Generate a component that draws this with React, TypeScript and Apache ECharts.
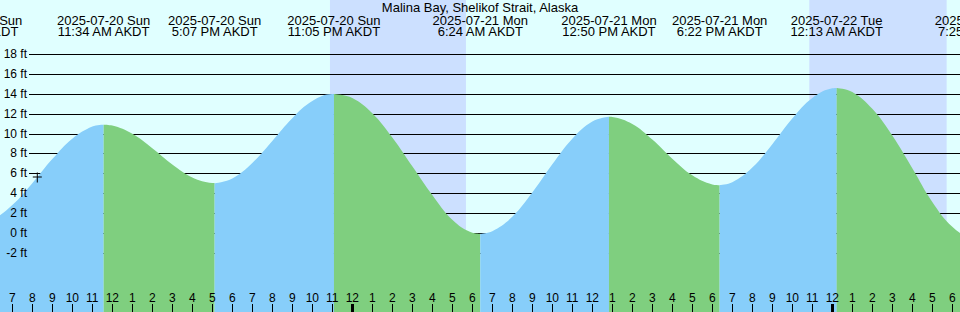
import { useEffect, useRef } from "react";
import * as echarts from "echarts";

const TITLE = "Malina Bay, Shelikof Strait, Alaska";

// Tide extremes, time in hours since 2025-07-20 00:00 AKDT
const EXTREME_TIMES = [5.17, 11.567, 17.117, 23.083, 30.4, 36.833, 42.367, 48.217, 55.417];
const EXTREME_HEIGHTS = [0.9, 10.9, 5.0, 14.0, -0.1, 11.7, 4.8, 14.6, -0.6];
const EXTREME_DATES = [
  "2025-07-20 Sun",
  "2025-07-20 Sun",
  "2025-07-20 Sun",
  "2025-07-20 Sun",
  "2025-07-21 Mon",
  "2025-07-21 Mon",
  "2025-07-21 Mon",
  "2025-07-22 Tue",
  "2025-07-22 Tue",
];
const EXTREME_CLOCKS = [
  "5:10 AM AKDT",
  "11:34 AM AKDT",
  "5:07 PM AKDT",
  "11:05 PM AKDT",
  "6:24 AM AKDT",
  "12:50 PM AKDT",
  "6:22 PM AKDT",
  "12:13 AM AKDT",
  "7:25 AM AKDT",
];

// Hourly readings of the tide curve (ft)
const HOURS = [
  6, 7, 8, 9, 10, 11, 12, 13, 14, 15, 16, 17, 18, 19, 20, 21, 22, 23, 24, 25, 26, 27, 28, 29, 30,
  31, 32, 33, 34, 35, 36, 37, 38, 39, 40, 41, 42, 43, 44, 45, 46, 47, 48, 49, 50, 51, 52, 53, 54, 55,
];
const HOURLY_HEIGHTS = [
  1.31, 2.79, 5.0, 7.43, 9.49, 10.71, 10.81, 9.98, 8.52, 6.88, 5.57, 5.01, 5.48, 7.04, 9.26, 11.56,
  13.29, 14.0, 13.6, 12.05, 9.6, 6.7, 3.8, 1.3, 0.0, 0.15, 1.61, 4.05, 6.9, 9.49, 11.22, 11.68, 10.97,
  9.4, 7.47, 5.79, 4.87, 5.08, 6.57, 8.93, 11.52, 13.59, 14.57, 14.2, 12.5, 9.8, 6.5, 3.1, 0.6, -0.55,
];

// Night (sunset → sunrise)
const NIGHT_STARTS = [22.883, 46.85];
const NIGHT_ENDS = [29.683, 53.717];

// Current-time marker
const NOW_TIME = 8.25;
const NOW_HEIGHT = 5.57;

// Axis ticks
const TICK_HOURS = [
  7, 8, 9, 10, 11, 12, 13, 14, 15, 16, 17, 18, 19, 20, 21, 22, 23, 24, 25, 26, 27, 28, 29, 30, 31, 32,
  33, 34, 35, 36, 37, 38, 39, 40, 41, 42, 43, 44, 45, 46, 47, 48, 49, 50, 51, 52, 53, 54,
];
const MIDNIGHTS = [24, 48];
const GRID_LEVELS = [-2, 0, 2, 4, 6, 8, 10, 12, 14, 16, 18];

// Layout / style
const X_MIN = 6.385;
const X_MAX = 54.385;
const Y_MIN = -8;
const Y_MAX = 23.48;
const BG = "#e0ffff";
const NIGHT = "#cce0ff";
const FLOOD = "#87cefa";
const EBB = "#7fcf7f";
const FONT = '"Liberation Sans", Arial, sans-serif';

function hourLabel(v: number): string {
  const h = Math.round(v) % 12;
  return String(h === 0 ? 12 : h);
}

function buildSegments() {
  const segs: { points: number[][]; rising: boolean }[] = [];
  for (let i = 0; i < EXTREME_TIMES.length - 1; i++) {
    const t0 = EXTREME_TIMES[i];
    const t1 = EXTREME_TIMES[i + 1];
    const pts: number[][] = [[t0, EXTREME_HEIGHTS[i]]];
    HOURS.forEach((h, k) => {
      if (h > t0 && h < t1) pts.push([h, HOURLY_HEIGHTS[k]]);
    });
    pts.push([t1, EXTREME_HEIGHTS[i + 1]]);
    segs.push({ points: pts, rising: EXTREME_HEIGHTS[i + 1] > EXTREME_HEIGHTS[i] });
  }
  return segs;
}

export default function App() {
  const ref = useRef<HTMLDivElement>(null);

  useEffect(() => {
    if (!ref.current) return;
    const chart = echarts.init(ref.current, undefined, { renderer: "svg" });
    const segs = buildSegments();

    const tideSeries = segs.map((s, i) => {
      const base: any = {
        type: "line",
        xAxisIndex: 0,
        yAxisIndex: 0,
        data: s.points,
        smooth: 0.4,
        symbol: "none",
        silent: true,
        z: 2,
        lineStyle: { width: 0 },
        areaStyle: { color: s.rising ? FLOOD : EBB, opacity: 1, origin: "start" },
      };
      if (i === 0) {
        base.markArea = {
          silent: true,
          z: 1,
          itemStyle: { color: NIGHT },
          data: NIGHT_STARTS.map((st, k) => [{ xAxis: st }, { xAxis: NIGHT_ENDS[k] }]),
        };
        base.markPoint = {
          silent: true,
          z: 5,
          symbol: "path://M0,4h9v1h-9zM4,0h1v10h-1z",
          symbolSize: [9, 10],
          itemStyle: { color: "#000" },
          label: { show: false },
          data: [{ coord: [NOW_TIME, NOW_HEIGHT] }],
        };
      }
      return base;
    });

    const option: any = {
      animation: false,
      backgroundColor: BG,
      grid: [
        { left: 0, right: 0, top: 0, bottom: 0 },
        { left: 29, right: 0, top: 0, bottom: 0 },
      ],
      xAxis: [
        {
          type: "value",
          gridIndex: 0,
          min: X_MIN,
          max: X_MAX,
          position: "bottom",
          z: 10,
          axisLine: { show: false, onZero: false },
          axisTick: {
            show: true,
            inside: true,
            length: 8,
            customValues: TICK_HOURS,
            lineStyle: { color: "#000", width: 1 },
          },
          axisLabel: {
            show: true,
            inside: true,
            margin: 8,
            customValues: TICK_HOURS,
            formatter: (v: number) => hourLabel(v),
            color: "#000",
            fontFamily: FONT,
            fontSize: 12,
          },
          splitLine: { show: false },
        },
        {
          type: "value",
          gridIndex: 0,
          min: X_MIN,
          max: X_MAX,
          position: "bottom",
          z: 10,
          axisLine: { show: false, onZero: false },
          axisTick: {
            show: true,
            inside: true,
            length: 8,
            customValues: MIDNIGHTS,
            lineStyle: { color: "#000", width: 3 },
          },
          axisLabel: { show: false },
          splitLine: { show: false },
        },
        { type: "value", gridIndex: 1, min: X_MIN, max: X_MAX, show: false },
      ],
      yAxis: [
        { type: "value", gridIndex: 0, min: Y_MIN, max: Y_MAX, show: false },
        {
          type: "value",
          gridIndex: 1,
          min: Y_MIN,
          max: Y_MAX,
          z: 10,
          axisLine: { show: false },
          axisTick: { show: false },
          splitLine: { show: false },
          axisLabel: {
            customValues: GRID_LEVELS,
            formatter: (v: number) => `${v} ft`,
            margin: 2,
            color: "#000",
            fontFamily: FONT,
            fontSize: 12,
          },
        },
      ],
      series: [
        ...tideSeries,
        {
          type: "custom",
          xAxisIndex: 2,
          yAxisIndex: 1,
          z: 1.5,
          silent: true,
          data: GRID_LEVELS.map((v) => [X_MIN, v]),
          renderItem: (params: any, api: any) => {
            const y = Math.round(api.coord([api.value(0), api.value(1)])[1]) + 0.5;
            const cs = params.coordSys;
            return {
              type: "line",
              shape: { x1: cs.x, y1: y, x2: cs.x + cs.width, y2: y },
              style: { stroke: "#000", lineWidth: 1 },
            };
          },
        },
      ],
    };

    chart.setOption(option);

    const textStyle = { font: `13px ${FONT}`, fill: "#000", align: "center", verticalAlign: "middle" };
    const graphics: any[] = [
      {
        type: "text",
        x: chart.getWidth() / 2,
        y: 7,
        z: 20,
        silent: true,
        style: { ...textStyle, text: TITLE },
      },
    ];
    EXTREME_TIMES.forEach((t, i) => {
      const x = chart.convertToPixel({ xAxisIndex: 0 }, t) as number;
      graphics.push({
        type: "text",
        x,
        y: 20,
        z: 20,
        silent: true,
        style: { ...textStyle, text: EXTREME_DATES[i] },
      });
      graphics.push({
        type: "text",
        x,
        y: 31.5,
        z: 20,
        silent: true,
        style: { ...textStyle, text: EXTREME_CLOCKS[i] },
      });
    });
    chart.setOption({ graphic: graphics });

    return () => chart.dispose();
  }, []);

  return (
    <div
      ref={ref}
      style={{ position: "absolute", left: 0, top: 0, width: 960, height: 312 }}
    />
  );
}
